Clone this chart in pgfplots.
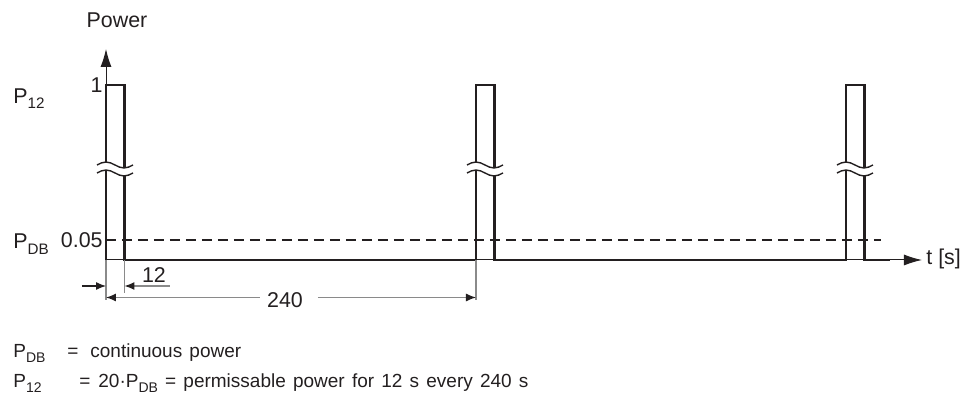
\documentclass[border=0pt]{standalone}
\usepackage{pgfplots}
\pgfplotsset{compat=1.18}
\usepackage{fontspec}
\setmainfont{Liberation Sans}
\usetikzlibrary{arrows.meta}
\definecolor{ink}{HTML}{231F20}
\definecolor{dim}{HTML}{8A8A8A}
\newcommand\sub[2][7.6]{\raisebox{-0.45ex}{\fontsize{#1}{#1}\selectfont #2}}
\newcommand\widesp{\spaceskip=3.6pt plus 1pt minus 1pt\relax}

\begin{document}
\begin{tikzpicture}[font=\fontsize{10.7}{12}\selectfont, text=ink]
  \begin{axis}[
      x=0.77083pt, y=87.5pt,
      xmin=0, xmax=529.3, ymin=0, ymax=1.206,
      axis lines=left,
      axis line style={ink, line width=0.5pt, -{Latex[length=9pt,width=5.5pt]}},
      xtick=\empty,
      ytick={0.1143,1},
      yticklabels={0.05\hspace{3pt},1},
      major tick length=0pt,
      yticklabel style={inner sep=0pt, xshift=-1.5pt, text=ink},
      /pgf/number format/assume math mode=true,
      clip=false,
    ]
    % power signal: 12 s pulses every 240 s
    \addplot[ink, line width=1.4pt] coordinates {
      (0,0) (0,1) (12,1) (12,0) (240,0) (240,1) (252,1) (252,0)
      (480,0) (480,1) (492,1) (492,0) (508.5,0)
    };
    % continuous power level
    \addplot[ink, line width=0.7pt, dash pattern=on 5pt off 3pt] coordinates {
      (0,0.1143) (502.7,0.1143)
    };

    \coordinate (b0) at (axis cs:0,0.52);
    \coordinate (b1) at (axis cs:240,0.52);
    \coordinate (b2) at (axis cs:480,0.52);

    % labels
    \node at (axis cs:7.13,1.371) {Power};
    \node[anchor=base west, inner sep=0pt] at (axis cs:-60.3,0.897) {P\sub{12}};
    \node[anchor=base west, inner sep=0pt] at (axis cs:-60.3,0.0629) {P\sub{DB}};
    \node[anchor=base west, inner sep=0pt] at (axis cs:531.9,-0.0286) {t [s]};

    % dimensions
    \draw[dim, line width=0.6pt] (axis cs:0,0) -- (axis cs:0,-0.2286);
    \draw[dim, line width=0.6pt] (axis cs:12,0) -- (axis cs:12,-0.1886);
    \draw[dim, line width=0.6pt] (axis cs:240,0) -- (axis cs:240,-0.2286);
    \draw[dim, line width=0.6pt, -{Latex[length=5pt,width=4pt,color=ink]}]
      (axis cs:41.5,-0.1486) -- (axis cs:12,-0.1486);
    \draw[ink, line width=0.6pt, -{Latex[length=5pt,width=4pt]}]
      (axis cs:-15.57,-0.1486) -- (axis cs:0,-0.1486);
    \draw[dim, line width=0.6pt, {Latex[length=5pt,width=4pt,color=ink]}-]
      (axis cs:0,-0.2143) -- (axis cs:99.9,-0.2143);
    \draw[dim, line width=0.6pt, -{Latex[length=5pt,width=4pt,color=ink]}]
      (axis cs:137.5,-0.2143) -- (axis cs:240,-0.2143);
    \node at (axis cs:116.1,-0.2286) {240};
    \node at (axis cs:31.1,-0.0857) {12};

    % legend text
    \node[anchor=base west, inner sep=0pt, font=\fontsize{9.5}{11}\selectfont]
      at (axis cs:-60.3,-0.56) {P\sub[7]{DB}};
    \node[anchor=base west, inner sep=0pt, font=\fontsize{9.5}{11}\selectfont]
      at (axis cs:-25.3,-0.56) {=};
    \node[anchor=base west, inner sep=0pt, font=\fontsize{9.5}{11}\selectfont]
      at (axis cs:-10.38,-0.56) {\widesp continuous power};
    \node[anchor=base west, inner sep=0pt, font=\fontsize{9.5}{11}\selectfont]
      at (axis cs:-60.3,-0.731) {P\sub[7]{12}};
    \node[anchor=base west, inner sep=0pt, font=\fontsize{9.5}{11}\selectfont]
      at (axis cs:-17.5,-0.731) {=};
    \node[anchor=base west, inner sep=0pt, font=\fontsize{9.5}{11}\selectfont]
      at (axis cs:-5.19,-0.731)
      {\widesp 20·P\sub[7]{DB} = permissable power for 12 s every 240 s};

    % page frame
    \path (axis cs:-68.76,1.4857) rectangle (axis cs:555.9,-0.7657);
  \end{axis}

  % break marks on the pulses
  \foreach \c in {b0,b1,b2} {
    \begin{scope}[shift={(\c)}]
      \fill[white] (-4.5pt,2pt) sin (0pt,3.5pt) cos (4.5pt,2pt) sin (9pt,0.5pt) cos (13.5pt,2pt)
        -- (13.5pt,-2pt) sin (9pt,-3.5pt) cos (4.5pt,-2pt) sin (0pt,-0.5pt) cos (-4.5pt,-2pt) -- cycle;
      \draw[ink, line width=0.7pt] (-4.5pt,2pt) sin (0pt,3.5pt) cos (4.5pt,2pt) sin (9pt,0.5pt) cos (13.5pt,2pt);
      \draw[ink, line width=0.7pt] (-4.5pt,-2pt) sin (0pt,-0.5pt) cos (4.5pt,-2pt) sin (9pt,-3.5pt) cos (13.5pt,-2pt);
    \end{scope}
  }
\end{tikzpicture}
\end{document}
